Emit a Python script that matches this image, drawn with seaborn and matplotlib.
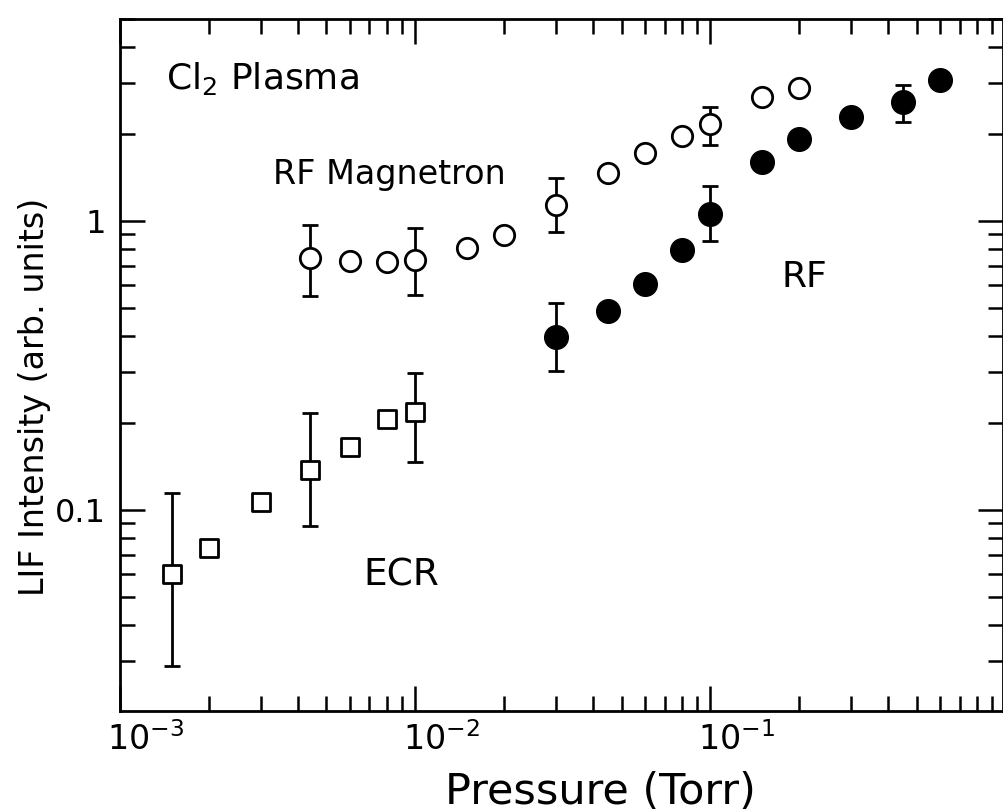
import numpy as np
import pandas as pd
import matplotlib
matplotlib.use("Agg")
import matplotlib.pyplot as plt
import matplotlib.transforms as mtransforms
from matplotlib.ticker import LogLocator, NullFormatter
import seaborn as sns

# ---------------- data ----------------
ecr_p = [0.0015, 0.002, 0.003, 0.0044, 0.006, 0.008, 0.01]
ecr_i = [0.060, 0.074, 0.107, 0.1375, 0.165, 0.206, 0.218]
ecr_err_p = [0.0015, 0.0044, 0.01]
ecr_err_i = [0.060, 0.1375, 0.218]
ecr_err_lo = [0.0289, 0.0884, 0.1473]
ecr_err_hi = [0.1143, 0.217, 0.2987]

mag_p = [0.0044, 0.006, 0.008, 0.01, 0.015, 0.02, 0.03, 0.045, 0.06, 0.08, 0.1, 0.15, 0.2]
mag_i = [0.746, 0.728, 0.723, 0.735, 0.806, 0.898, 1.14, 1.464, 1.713, 1.962, 2.165, 2.69, 2.88]
mag_err_p = [0.0044, 0.01, 0.03, 0.1]
mag_err_i = [0.746, 0.735, 1.14, 2.165]
mag_err_lo = [0.552, 0.553, 0.914, 1.837]
mag_err_hi = [0.973, 0.948, 1.41, 2.49]

rf_p = [0.03, 0.045, 0.06, 0.08, 0.1, 0.15, 0.2, 0.3, 0.45, 0.6]
rf_i = [0.398, 0.488, 0.605, 0.795, 1.057, 1.602, 1.919, 2.29, 2.573, 3.07]
rf_err_p = [0.03, 0.1, 0.45]
rf_err_i = [0.398, 1.057, 2.573]
rf_err_lo = [0.303, 0.85, 2.199]
rf_err_hi = [0.519, 1.318, 2.96]

x_ticks = [1e-3, 1e-2, 1e-1]
x_ticklabels = [r"$10^{-3}$", r"$10^{-2}$", r"$10^{-1}$"]
y_ticks = [0.1, 1]
y_ticklabels = ["0.1", "1"]

# ---------------- figure ----------------
sns.set_theme(style="ticks")
plt.rcParams["font.family"] = ["DejaVu Sans"]
plt.rcParams["mathtext.fontset"] = "dejavusans"

W, H = 1004, 811
fig = plt.figure(figsize=(W / 100, H / 100), dpi=100)
L, R, T, B = 120, 1003, 19, 711
ax = fig.add_axes([L / W, 1 - B / H, (R - L) / W, (B - T) / H])

ax.set_xscale("log")
ax.set_yscale("log")

def errs(p, i, lo, hi):
    ax.errorbar(p, i,
                yerr=[np.array(i) - np.array(lo), np.array(hi) - np.array(i)],
                fmt="none", ecolor="black", elinewidth=2.0,
                capsize=6, capthick=2.0, zorder=2)

errs(ecr_err_p, ecr_err_i, ecr_err_lo, ecr_err_hi)
errs(mag_err_p, mag_err_i, mag_err_lo, mag_err_hi)
errs(rf_err_p, rf_err_i, rf_err_lo, rf_err_hi)

sns.scatterplot(x=ecr_p, y=ecr_i, ax=ax, marker="s", s=150, color="white",
                edgecolor="black", linewidth=2.0, zorder=3, legend=False)
sns.scatterplot(x=mag_p, y=mag_i, ax=ax, marker="o", s=215, color="white",
                edgecolor="black", linewidth=2.0, zorder=3, legend=False)
sns.scatterplot(x=rf_p, y=rf_i, ax=ax, marker="o", s=290, color="black",
                edgecolor="black", linewidth=1.0, zorder=3, legend=False)

ax.set_xlim(1e-3, 0.98)
ax.set_ylim(0.0202, 5.0)

ax.set_xticks(x_ticks)
ax.set_xticklabels(x_ticklabels, fontsize=24)
ax.set_yticks(y_ticks)
ax.set_yticklabels(y_ticklabels, fontsize=23)
ax.xaxis.set_minor_locator(LogLocator(base=10, subs=np.arange(2, 10) * 1.0, numticks=30))
ax.yaxis.set_minor_locator(LogLocator(base=10, subs=np.arange(2, 10) * 1.0, numticks=30))
ax.xaxis.set_minor_formatter(NullFormatter())
ax.yaxis.set_minor_formatter(NullFormatter())

ax.tick_params(which="both", direction="in", top=True, right=True,
               width=1.8, color="black", labelcolor="black")
ax.tick_params(which="major", length=18)
ax.tick_params(which="minor", length=11)
ax.tick_params(axis="x", which="major", pad=8)
ax.tick_params(axis="y", which="major", pad=10)

for sp in ax.spines.values():
    sp.set_linewidth(2.0)
    sp.set_color("black")

off = mtransforms.ScaledTranslation(0.26, 0, fig.dpi_scale_trans)
for lab in ax.get_xticklabels():
    lab.set_transform(lab.get_transform() + off)

ax.set_xlabel("Pressure (Torr)", fontsize=31, color="black")
ax.set_ylabel("LIF Intensity (arb. units)", fontsize=24, color="black")
ax.xaxis.set_label_coords((600 - L) / (R - L), (B - 792) / (B - T))
ax.yaxis.set_label_coords((35 - L) / (R - L), (B - 397) / (B - T))
ax.xaxis.label.set_va("center")
ax.yaxis.label.set_va("center")

def label(txt, px, py, size=24):
    ax.text((px - L) / (R - L), (B - py) / (B - T), txt, transform=ax.transAxes,
            fontsize=size, ha="left", va="baseline", color="black")

label(r"Cl$_2$ Plasma", 166, 89, 26)
label("RF Magnetron", 273, 184, 24)
label("RF", 782, 287, 26)
label("ECR", 363, 585, 27)

fig.savefig("out.png", dpi=100, facecolor="white")
